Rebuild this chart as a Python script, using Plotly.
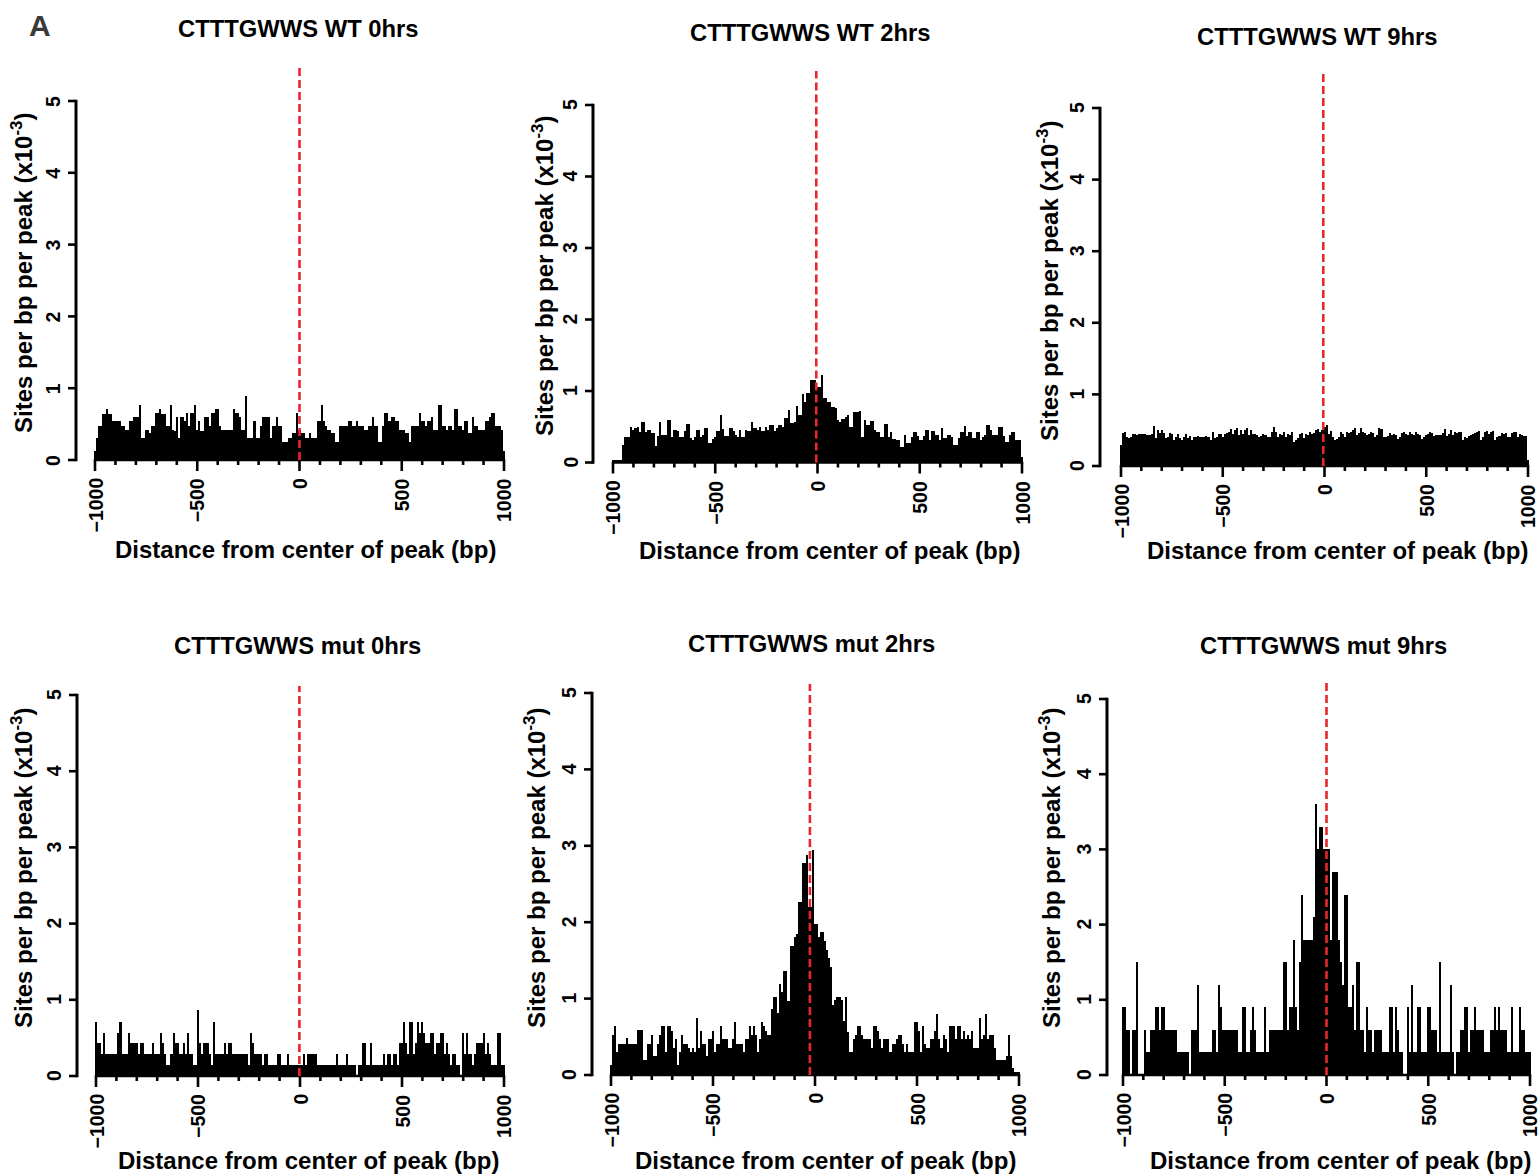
import plotly.graph_objects as go

# ---------------- data ----------------
distance_bp = list(range(-1000, 1001, 10))

wt_0hrs = [
    0.13, 0.31, 0.48, 0.48, 0.64, 0.64, 0.71, 0.64, 0.64, 0.54,
    0.54, 0.54, 0.54, 0.48, 0.48, 0.42, 0.42, 0.54, 0.54, 0.60,
    0.60, 0.60, 0.77, 0.31, 0.31, 0.42, 0.42, 0.37, 0.48, 0.48,
    0.65, 0.65, 0.71, 0.64, 0.64, 0.48, 0.48, 0.77, 0.42, 0.40,
    0.60, 0.31, 0.60, 0.60, 0.55, 0.65, 0.48, 0.65, 0.65, 0.77,
    0.42, 0.55, 0.40, 0.40, 0.60, 0.60, 0.48, 0.65, 0.65, 0.71,
    0.71, 0.48, 0.42, 0.42, 0.42, 0.42, 0.42, 0.42, 0.71, 0.65,
    0.65, 0.60, 0.42, 0.42, 0.89, 0.31, 0.31, 0.31, 0.54, 0.31,
    0.31, 0.48, 0.60, 0.60, 0.60, 0.60, 0.31, 0.48, 0.48, 0.60,
    0.48, 0.48, 0.25, 0.25, 0.25, 0.31, 0.31, 0.37, 0.37, 0.65,
    0.42, 0.37, 0.37, 0.31, 0.31, 0.37, 0.31, 0.31, 0.31, 0.54,
    0.54, 0.77, 0.54, 0.48, 0.42, 0.42, 0.37, 0.37, 0.25, 0.25,
    0.48, 0.48, 0.48, 0.48, 0.54, 0.54, 0.48, 0.48, 0.54, 0.48,
    0.48, 0.48, 0.42, 0.42, 0.48, 0.48, 0.60, 0.48, 0.48, 0.25,
    0.25, 0.48, 0.65, 0.65, 0.54, 0.60, 0.60, 0.54, 0.54, 0.42,
    0.42, 0.42, 0.37, 0.37, 0.25, 0.48, 0.48, 0.48, 0.48, 0.65,
    0.54, 0.54, 0.48, 0.54, 0.54, 0.60, 0.42, 0.42, 0.77, 0.77,
    0.48, 0.48, 0.42, 0.48, 0.48, 0.42, 0.71, 0.71, 0.48, 0.48,
    0.42, 0.54, 0.54, 0.37, 0.37, 0.60, 0.48, 0.48, 0.42, 0.42,
    0.42, 0.54, 0.54, 0.60, 0.65, 0.65, 0.48, 0.48, 0.48, 0.42,
    0.13,
]

wt_2hrs = [
    0.03, 0.03, 0.03, 0.03, 0.03, 0.25, 0.35, 0.35, 0.35, 0.50,
    0.45, 0.48, 0.50, 0.42, 0.56, 0.56, 0.43, 0.45, 0.45, 0.41,
    0.41, 0.23, 0.37, 0.56, 0.39, 0.39, 0.39, 0.59, 0.59, 0.36,
    0.45, 0.45, 0.44, 0.36, 0.36, 0.44, 0.54, 0.54, 0.34, 0.31,
    0.36, 0.45, 0.45, 0.36, 0.39, 0.48, 0.48, 0.27, 0.27, 0.33,
    0.36, 0.44, 0.44, 0.67, 0.47, 0.37, 0.37, 0.48, 0.48, 0.44,
    0.39, 0.35, 0.45, 0.36, 0.36, 0.46, 0.44, 0.44, 0.56, 0.48,
    0.48, 0.45, 0.50, 0.44, 0.44, 0.50, 0.45, 0.53, 0.53, 0.44,
    0.48, 0.53, 0.53, 0.50, 0.62, 0.62, 0.73, 0.55, 0.55, 0.56,
    0.79, 0.67, 0.67, 0.96, 0.85, 0.97, 0.97, 1.15, 1.15, 1.15,
    1.06, 1.06, 1.23, 0.90, 0.90, 0.84, 0.84, 0.78, 0.78, 0.76,
    0.60, 0.57, 0.61, 0.61, 0.64, 0.67, 0.50, 0.50, 0.71, 0.71,
    0.71, 0.72, 0.36, 0.60, 0.52, 0.52, 0.58, 0.58, 0.45, 0.43,
    0.43, 0.36, 0.36, 0.54, 0.54, 0.35, 0.43, 0.33, 0.33, 0.31,
    0.31, 0.22, 0.22, 0.39, 0.27, 0.27, 0.35, 0.43, 0.43, 0.37,
    0.31, 0.31, 0.37, 0.46, 0.46, 0.31, 0.44, 0.44, 0.39, 0.39,
    0.31, 0.48, 0.34, 0.34, 0.39, 0.39, 0.36, 0.25, 0.25, 0.34,
    0.43, 0.43, 0.51, 0.37, 0.43, 0.43, 0.34, 0.34, 0.43, 0.43,
    0.32, 0.36, 0.39, 0.52, 0.52, 0.46, 0.38, 0.38, 0.39, 0.49,
    0.49, 0.37, 0.28, 0.28, 0.39, 0.43, 0.43, 0.32, 0.32, 0.32,
    0.08,
]

wt_9hrs = [
    0.29, 0.46, 0.48, 0.41, 0.39, 0.40, 0.45, 0.45, 0.43, 0.45,
    0.45, 0.45, 0.45, 0.43, 0.44, 0.45, 0.56, 0.39, 0.50, 0.46,
    0.50, 0.46, 0.39, 0.41, 0.46, 0.45, 0.37, 0.41, 0.45, 0.39,
    0.37, 0.41, 0.45, 0.39, 0.42, 0.37, 0.41, 0.40, 0.42, 0.40,
    0.40, 0.41, 0.42, 0.40, 0.36, 0.47, 0.39, 0.40, 0.45, 0.45,
    0.40, 0.45, 0.46, 0.48, 0.51, 0.45, 0.50, 0.53, 0.43, 0.50,
    0.45, 0.50, 0.53, 0.43, 0.50, 0.45, 0.45, 0.43, 0.41, 0.42,
    0.45, 0.43, 0.40, 0.41, 0.47, 0.55, 0.48, 0.41, 0.45, 0.43,
    0.48, 0.41, 0.45, 0.43, 0.48, 0.34, 0.37, 0.39, 0.45, 0.46,
    0.39, 0.45, 0.44, 0.48, 0.45, 0.46, 0.50, 0.52, 0.48, 0.50,
    0.55, 0.57, 0.45, 0.49, 0.41, 0.36, 0.38, 0.41, 0.48, 0.45,
    0.41, 0.48, 0.46, 0.47, 0.50, 0.53, 0.43, 0.46, 0.53, 0.48,
    0.46, 0.43, 0.45, 0.48, 0.46, 0.41, 0.43, 0.53, 0.51, 0.41,
    0.40, 0.42, 0.46, 0.43, 0.45, 0.43, 0.38, 0.41, 0.46, 0.48,
    0.45, 0.43, 0.47, 0.45, 0.44, 0.48, 0.45, 0.43, 0.38, 0.41,
    0.43, 0.45, 0.48, 0.46, 0.42, 0.44, 0.43, 0.44, 0.46, 0.51,
    0.42, 0.45, 0.50, 0.44, 0.47, 0.46, 0.48, 0.47, 0.37, 0.41,
    0.39, 0.42, 0.44, 0.45, 0.46, 0.48, 0.49, 0.36, 0.40, 0.48,
    0.49, 0.45, 0.47, 0.49, 0.36, 0.40, 0.42, 0.46, 0.45, 0.46,
    0.40, 0.41, 0.46, 0.48, 0.47, 0.40, 0.45, 0.43, 0.42, 0.42,
    0.08,
]

mut_0hrs = [
    0.71, 0.43, 0.43, 0.29, 0.57, 0.29, 0.29, 0.29, 0.29, 0.29,
    0.29, 0.57, 0.71, 0.29, 0.29, 0.29, 0.57, 0.43, 0.43, 0.43,
    0.43, 0.29, 0.43, 0.43, 0.29, 0.29, 0.29, 0.29, 0.43, 0.29,
    0.29, 0.29, 0.57, 0.43, 0.29, 0.14, 0.14, 0.29, 0.57, 0.43,
    0.43, 0.29, 0.29, 0.43, 0.29, 0.57, 0.29, 0.29, 0.14, 0.14,
    0.86, 0.43, 0.29, 0.43, 0.43, 0.43, 0.29, 0.14, 0.71, 0.29,
    0.29, 0.29, 0.29, 0.43, 0.29, 0.43, 0.43, 0.29, 0.29, 0.29,
    0.29, 0.29, 0.29, 0.29, 0.29, 0.14, 0.57, 0.43, 0.29, 0.29,
    0.29, 0.29, 0.14, 0.29, 0.29, 0.14, 0.14, 0.14, 0.14, 0.29,
    0.29, 0.14, 0.14, 0.14, 0.29, 0.14, 0.14, 0.14, 0.14, 0.14,
    0.14, 0.14, 0.29, 0.14, 0.29, 0.29, 0.29, 0.29, 0.29, 0.14,
    0.14, 0.14, 0.14, 0.14, 0.14, 0.14, 0.14, 0.14, 0.29, 0.14,
    0.14, 0.14, 0.14, 0.29, 0.14, 0.14, 0.14, 0.14, 0.00, 0.14,
    0.14, 0.43, 0.43, 0.14, 0.14, 0.43, 0.14, 0.14, 0.14, 0.14,
    0.14, 0.29, 0.14, 0.29, 0.29, 0.14, 0.29, 0.29, 0.14, 0.43,
    0.43, 0.71, 0.43, 0.29, 0.71, 0.71, 0.29, 0.43, 0.71, 0.57,
    0.71, 0.57, 0.43, 0.43, 0.57, 0.57, 0.29, 0.43, 0.43, 0.57,
    0.57, 0.29, 0.43, 0.29, 0.14, 0.29, 0.29, 0.14, 0.14, 0.00,
    0.57, 0.29, 0.57, 0.29, 0.29, 0.14, 0.29, 0.43, 0.43, 0.43,
    0.57, 0.29, 0.43, 0.29, 0.14, 0.14, 0.14, 0.57, 0.57, 0.14,
    0.14,
]

mut_2hrs = [
    0.13, 0.52, 0.64, 0.30, 0.41, 0.41, 0.41, 0.41, 0.48, 0.41,
    0.41, 0.41, 0.41, 0.59, 0.59, 0.59, 0.19, 0.19, 0.41, 0.41,
    0.52, 0.25, 0.25, 0.41, 0.52, 0.64, 0.64, 0.30, 0.64, 0.64,
    0.58, 0.36, 0.47, 0.13, 0.30, 0.52, 0.41, 0.41, 0.36, 0.30,
    0.36, 0.30, 0.75, 0.36, 0.58, 0.41, 0.41, 0.25, 0.47, 0.47,
    0.58, 0.30, 0.41, 0.41, 0.64, 0.47, 0.47, 0.47, 0.36, 0.36,
    0.47, 0.70, 0.41, 0.41, 0.41, 0.30, 0.47, 0.47, 0.64, 0.52,
    0.64, 0.52, 0.30, 0.47, 0.70, 0.64, 0.58, 0.52, 0.52, 0.86,
    1.02, 1.02, 0.81, 1.19, 1.08, 1.36, 1.36, 0.97, 1.69, 1.69,
    1.81, 1.85, 2.26, 2.26, 2.77, 2.77, 2.88, 2.20, 2.20, 2.95,
    1.97, 1.97, 1.81, 1.87, 1.87, 1.76, 1.64, 1.53, 1.42, 0.91,
    0.98, 1.02, 1.02, 0.98, 0.71, 1.02, 0.56, 0.30, 0.30, 0.47,
    0.52, 0.64, 0.64, 0.52, 0.47, 0.47, 0.47, 0.47, 0.36, 0.64,
    0.64, 0.58, 0.47, 0.36, 0.47, 0.47, 0.47, 0.30, 0.41, 0.41,
    0.47, 0.52, 0.52, 0.41, 0.30, 0.41, 0.30, 0.30, 0.30, 0.70,
    0.70, 0.58, 0.30, 0.64, 0.41, 0.36, 0.36, 0.47, 0.47, 0.58,
    0.80, 0.47, 0.36, 0.52, 0.47, 0.30, 0.64, 0.64, 0.64, 0.47,
    0.64, 0.64, 0.47, 0.58, 0.47, 0.52, 0.47, 0.58, 0.36, 0.36,
    0.36, 0.75, 0.47, 0.52, 0.80, 0.47, 0.52, 0.52, 0.36, 0.20,
    0.20, 0.20, 0.20, 0.20, 0.25, 0.52, 0.25, 0.09, 0.04, 0.04,
    0.04,
]

mut_9hrs = [
    0.9, 0.9, 0.6, 0.6, 0.0, 0.6, 0.6, 1.5, 0.0, 0.0,
    0.0, 0.6, 0.3, 0.3, 0.6, 0.6, 0.9, 0.9, 0.6, 0.9,
    0.9, 0.6, 0.6, 0.6, 0.6, 0.6, 0.6, 0.3, 0.3, 0.3,
    0.3, 0.3, 0.3, 0.0, 0.6, 0.6, 0.6, 1.2, 0.3, 0.3,
    0.3, 0.3, 0.3, 0.3, 0.6, 0.6, 0.3, 1.2, 0.9, 0.6,
    0.6, 0.6, 0.6, 0.6, 0.6, 0.6, 0.6, 0.3, 0.3, 0.9,
    0.9, 0.3, 0.3, 0.6, 0.9, 0.6, 0.3, 0.3, 0.3, 0.3,
    0.9, 0.3, 0.6, 0.6, 0.6, 0.6, 0.6, 0.6, 0.6, 1.5,
    1.5, 0.6, 0.9, 0.9, 1.8, 0.9, 0.6, 1.5, 2.4, 1.8,
    1.8, 1.8, 1.8, 1.8, 2.1, 3.6, 3.0, 3.3, 3.3, 3.0,
    3.0, 3.0, 1.8, 2.7, 2.7, 2.7, 1.8, 1.5, 1.2, 2.4,
    2.4, 0.9, 0.9, 1.2, 0.6, 1.5, 1.5, 0.6, 0.6, 0.3,
    0.9, 0.6, 0.6, 0.3, 0.6, 0.6, 0.6, 0.6, 0.3, 0.3,
    0.3, 0.9, 0.9, 0.3, 0.9, 0.6, 0.3, 0.3, 0.0, 0.0,
    0.9, 0.3, 1.2, 0.3, 0.3, 0.9, 0.9, 0.3, 0.3, 0.3,
    0.9, 0.9, 0.6, 0.6, 0.6, 0.3, 1.5, 0.3, 0.3, 0.3,
    0.3, 1.2, 0.3, 0.0, 0.3, 0.3, 0.6, 0.6, 0.9, 0.9,
    0.3, 0.6, 0.6, 0.9, 0.6, 0.6, 0.6, 0.6, 0.3, 0.3,
    0.3, 0.6, 0.6, 0.9, 0.6, 0.9, 0.6, 0.6, 0.6, 0.3,
    0.3, 0.9, 0.3, 0.3, 0.3, 0.9, 0.6, 0.6, 0.3, 0.3,
    0.3,
]

panel_titles = [
    "CTTTGWWS WT 0hrs", "CTTTGWWS WT 2hrs", "CTTTGWWS WT 9hrs",
    "CTTTGWWS mut 0hrs", "CTTTGWWS mut 2hrs", "CTTTGWWS mut 9hrs",
]
panel_series = [wt_0hrs, wt_2hrs, wt_9hrs, mut_0hrs, mut_2hrs, mut_9hrs]
center_line_bp = [0, -6, -6, -3, -25, 0]

x_tick_values = [-1000, -500, 0, 500, 1000]
x_tick_labels = ["\u22121000", "\u2212500", "0", "500", "1000"]
x_minor_ticks = list(range(-1000, 1001, 100))
y_tick_values = [0, 1, 2, 3, 4, 5]
x_title = "Distance from center of peak (bp)"
y_title = "Sites per bp per peak (x10<sup>-3</sup>)"

# ---------------- layout geometry (pixels) ----------------
W, H = 1540, 1176
geom = [
    dict(yax=76, xm=95, xp=504, y0=460, y5=101, ytop=68,
         t=(298, 28), xt=(305, 549), yt=(22, 273)),
    dict(yax=593, xm=613, xp=1022, y0=462.5, y5=105, ytop=71,
         t=(810, 33), xt=(829, 550), yt=(543, 276)),
    dict(yax=1100, xm=1121, xp=1528, y0=466, y5=108, ytop=74,
         t=(1317, 36), xt=(1337, 550), yt=(1048, 281)),
    dict(yax=77, xm=96, xp=504, y0=1076, y5=695, ytop=686,
         t=(297, 645), xt=(308, 1160), yt=(22, 868)),
    dict(yax=592, xm=611, xp=1019, y0=1075, y5=693, ytop=684,
         t=(811, 643), xt=(825, 1160), yt=(535, 868)),
    dict(yax=1107, xm=1123, xp=1530, y0=1075, y5=699, ytop=683,
         t=(1323, 645), xt=(1340, 1160), yt=(1050, 868)),
]

FONT = "Liberation Sans, Arial, Helvetica, sans-serif"
RED = "#e8262b"
LW = 2.6
TICK_FS = 19.5
TITLE_FS = 23.8
AXT_FS = 24

fig = go.Figure()
shapes = []
annotations = []
layout_axes = {}


def fxp(px):
    return px / W


def fyp(py):
    return 1 - py / H


for i, (g, title, vals, cl) in enumerate(zip(geom, panel_titles, panel_series, center_line_bp), start=1):
    s = (g["xp"] - g["xm"]) / 2000.0
    unit = (g["y0"] - g["y5"]) / 5.0
    e = (g["xm"] - g["yax"]) / s
    right_px = min(g["xp"] + (g["xm"] - g["yax"]), W - 1)
    xr = [-1000 - e, 1000 + (right_px - g["xp"]) / s]
    yr = [0, (g["y0"] - g["ytop"]) / unit]
    dx = [fxp(g["yax"]), fxp(right_px)]
    dy = [fyp(g["y0"]), fyp(g["ytop"])]

    def X(v, g=g, s=s):
        return fxp(g["xm"] + (v + 1000) * s)

    def Y(v, g=g, unit=unit):
        return fyp(g["y0"] - v * unit)

    sfx = "" if i == 1 else str(i)
    fig.add_trace(go.Bar(
        x=distance_bp, y=vals, width=10,
        marker=dict(color="black", line=dict(width=0)),
        xaxis="x" + sfx, yaxis="y" + sfx, hoverinfo="x+y",
    ))
    layout_axes["xaxis" + sfx] = dict(domain=dx, range=xr, visible=False,
                                      anchor="y" + sfx, fixedrange=True)
    layout_axes["yaxis" + sfx] = dict(domain=dy, range=yr, visible=False,
                                      anchor="x" + sfx, fixedrange=True)

    # y axis line and ticks
    shapes.append(dict(type="line", xref="paper", yref="paper",
                       x0=fxp(g["yax"]), x1=fxp(g["yax"]),
                       y0=Y(0) - 1.3 / H, y1=Y(5) + 1.3 / H,
                       line=dict(color="black", width=3)))
    for k in y_tick_values:
        shapes.append(dict(type="line", xref="paper", yref="paper",
                           x0=fxp(g["yax"] - 8), x1=fxp(g["yax"]),
                           y0=Y(k), y1=Y(k),
                           line=dict(color="black", width=LW)))
        annotations.append(dict(text="<b>%d</b>" % k, xref="paper", yref="paper",
                                x=fxp(g["yax"] - 23), y=Y(k), showarrow=False,
                                textangle=-90, xanchor="center", yanchor="middle",
                                font=dict(family=FONT, size=TICK_FS, color="black")))
    # x axis line and ticks
    shapes.append(dict(type="line", xref="paper", yref="paper",
                       x0=X(-1000) - 1.2 / W, x1=X(1000) + 1.2 / W,
                       y0=Y(0), y1=Y(0),
                       line=dict(color="black", width=LW)))
    for v in x_minor_ticks:
        ln = 11 if v in x_tick_values else 5
        shapes.append(dict(type="line", xref="paper", yref="paper",
                           x0=X(v), x1=X(v), y0=Y(0), y1=fyp(g["y0"] + ln),
                           line=dict(color="black", width=LW)))
    for v, lab in zip(x_tick_values, x_tick_labels):
        annotations.append(dict(text="<b>%s</b>" % lab, xref="paper", yref="paper",
                                x=X(v), y=fyp(g["y0"] + 16), showarrow=False,
                                textangle=-90, xanchor="center", yanchor="top",
                                font=dict(family=FONT, size=TICK_FS, color="black")))
    # red dashed centre line
    shapes.append(dict(type="line", xref="paper", yref="paper",
                       x0=X(cl), x1=X(cl), y0=Y(0), y1=dy[1],
                       line=dict(color=RED, width=2.6, dash="8px,4px")))
    # titles
    annotations.append(dict(text="<b>%s</b>" % title, xref="paper", yref="paper",
                            x=fxp(g["t"][0]), y=fyp(g["t"][1]), showarrow=False,
                            xanchor="center", yanchor="middle",
                            font=dict(family=FONT, size=TITLE_FS, color="black")))
    annotations.append(dict(text="<b>%s</b>" % x_title, xref="paper", yref="paper",
                            x=fxp(g["xt"][0]), y=fyp(g["xt"][1]), showarrow=False,
                            xanchor="center", yanchor="middle",
                            font=dict(family=FONT, size=AXT_FS, color="black")))
    annotations.append(dict(text="<b>%s</b>" % y_title, xref="paper", yref="paper",
                            x=fxp(g["yt"][0]), y=fyp(g["yt"][1]), showarrow=False,
                            textangle=-90, xanchor="center", yanchor="middle",
                            font=dict(family=FONT, size=AXT_FS, color="black")))

annotations.append(dict(text="<b>A</b>", xref="paper", yref="paper",
                        x=fxp(40), y=fyp(25), showarrow=False,
                        xanchor="center", yanchor="middle",
                        font=dict(family=FONT, size=30, color="#3a3a3a")))

fig.update_layout(
    width=W, height=H,
    margin=dict(l=0, r=0, t=0, b=0),
    paper_bgcolor="white", plot_bgcolor="white",
    showlegend=False, bargap=0,
    shapes=shapes, annotations=annotations,
    **layout_axes,
)

fig.write_html(
    "out.html",
    config={"displayModeBar": False},
    post_script="document.body.style.margin='0';document.body.style.padding='0';"
                "document.body.style.overflow='hidden';",
)
